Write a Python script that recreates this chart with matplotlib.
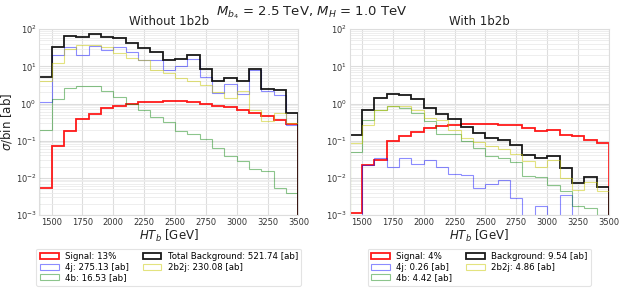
import numpy as np
import matplotlib
matplotlib.use("Agg")
import matplotlib.pyplot as plt

# ---- data -------------------------------------------------------------
bin_edges_gev = [1400, 1500, 1600, 1700, 1800, 1900, 2000, 2100, 2200, 2300, 2400,
                 2500, 2600, 2700, 2800, 2900, 3000, 3100, 3200, 3300, 3400, 3500]

# Without 1b2b
signal_wo = [0.0055, 0.072, 0.18, 0.38, 0.54, 0.74, 0.87, 0.97, 1.10, 1.12, 1.15,
             1.15, 1.07, 1.00, 0.87, 0.79, 0.69, 0.57, 0.47, 0.37, 0.29]
bg4j_wo = [1.1, 20, 34, 20, 36, 28, 34, 24, 15.0, 15.0, 7.8,
           10.5, 15.8, 5.2, 1.9, 3.4, 1.8, 7.8, 2.2, 1.7, 0.26]
bg4b_wo = [0.2, 1.3, 2.6, 3.0, 3.0, 2.2, 1.5, 1.0, 0.69, 0.44, 0.31,
           0.18, 0.15, 0.11, 0.062, 0.038, 0.028, 0.017, 0.015, 0.0055, 0.0038]
bg2b2j_wo = [4.0, 12, 30, 38, 38, 33, 23, 17, 15.0, 8.2, 6.5,
             5.0, 4.1, 3.1, 2.1, 1.45, 2.15, 0.69, 0.35, 0.55, 0.30]
total_wo = [5.3, 34, 66, 62, 77, 63, 59, 43, 31, 24, 14.8,
            15.8, 20.5, 8.5, 4.1, 5.0, 4.0, 8.5, 2.5, 2.25, 0.57]

# With 1b2b
signal_w = [0.0011, 0.022, 0.030, 0.10, 0.135, 0.17, 0.22, 0.25, 0.26, 0.28, 0.28,
            0.28, 0.27, 0.27, 0.22, 0.18, 0.20, 0.14, 0.13, 0.103, 0.089]
bg4j_w = [0.0, 0.022, 0.034, 0.020, 0.035, 0.024, 0.030, 0.020, 0.0125, 0.012, 0.0052,
          0.0068, 0.0085, 0.0029, 0.0, 0.0018, 0.0, 0.0034, 0.0, 0.0, 0.0]
bg4b_w = [0.05, 0.36, 0.68, 0.88, 0.78, 0.57, 0.34, 0.155, 0.155, 0.10, 0.065,
          0.038, 0.035, 0.027, 0.011, 0.0107, 0.0063, 0.0045, 0.0018, 0.0015, 0.0010]
bg2b2j_w = [0.088, 0.26, 0.68, 0.86, 0.85, 0.68, 0.40, 0.36, 0.20, 0.12, 0.09,
            0.072, 0.059, 0.043, 0.029, 0.020, 0.030, 0.0102, 0.0047, 0.0078, 0.0045]
total_w = [0.145, 0.66, 1.40, 1.82, 1.75, 1.35, 0.76, 0.54, 0.39, 0.24, 0.163,
           0.118, 0.105, 0.077, 0.042, 0.034, 0.038, 0.018, 0.0073, 0.0103, 0.0056]

labels_wo = ["Signal: 13%", "4j: 275.13 [ab]", "4b: 16.53 [ab]",
             "Total Background: 521.74 [ab]", "2b2j: 230.08 [ab]"]
labels_w = ["Signal: 4%", "4j: 0.26 [ab]", "4b: 4.42 [ab]",
            "Background: 9.54 [ab]", "2b2j: 4.86 [ab]"]

xticks = [1500, 1750, 2000, 2250, 2500, 2750, 3000, 3250, 3500]
titles = ["Without 1b2b", "With 1b2b"]

# ---- plotting ---------------------------------------------------------
plt.rcParams['font.family'] = ['DejaVu Sans']
plt.rcParams['mathtext.fontset'] = 'dejavusans'

fig = plt.figure(figsize=(6.23, 2.92), dpi=100)
ax1 = fig.add_axes([0.063, 0.2637, 0.416, 0.636])
ax2 = fig.add_axes([0.561, 0.2637, 0.4165, 0.636])

edges = np.array(bin_edges_gev, dtype=float)
lefts = edges[:-1]

styles = [
    dict(color='red', lw=1.3, alpha=0.9),
    dict(color='blue', lw=0.8, alpha=0.45),
    dict(color='green', lw=0.8, alpha=0.45),
    dict(color='black', lw=1.3, alpha=0.9),
    dict(color='#c8c800', lw=0.8, alpha=0.5),
]

def draw(ax, series, labels, title):
    for vals, lab, st in zip(series, labels, styles):
        ax.hist(lefts, bins=edges, weights=vals, histtype='step', log=True,
                label=lab, **st)
    ax.set_yscale('log', nonpositive='clip')
    ax.set_xlim(1400, 3500)
    ax.set_ylim(1e-3, 1e2)
    ax.set_xticks(xticks)
    ax.tick_params(axis='both', labelsize=6, colors='#333333', length=0, pad=2)
    ax.tick_params(axis='y', which='minor', length=0)
    ax.grid(True, which='major', color='#dddddd', lw=0.8)
    ax.grid(True, which='minor', axis='y', color='#ebebeb', lw=0.6)
    ax.set_axisbelow(True)
    for s in ax.spines.values():
        s.set_color('#dddddd')
        s.set_linewidth(0.8)
    ax.set_title(title, fontsize=8.5, pad=3, color='#222222')
    ax.set_xlabel(r'$HT_b$ [GeV]', fontsize=8.5, labelpad=1, color='#222222')
    leg = ax.legend(loc='upper center', bbox_to_anchor=(0.5, -0.158), ncol=2,
                    fontsize=6.2, frameon=True, handlelength=2.2, handleheight=0.7,
                    handletextpad=0.7, labelspacing=0.18, columnspacing=1.6,
                    borderpad=0.4, fancybox=True)
    leg.get_frame().set_edgecolor('#dddddd')
    leg.get_frame().set_linewidth(0.8)

draw(ax1, [signal_wo, bg4j_wo, bg4b_wo, total_wo, bg2b2j_wo], labels_wo, titles[0])
draw(ax2, [signal_w, bg4j_w, bg4b_w, total_w, bg2b2j_w], labels_w, titles[1])
ax1.set_ylabel(r'$\sigma$/bin [ab]', fontsize=8.5, labelpad=1, color='#222222')

fig.text(0.5, 0.955, r'$M_{b_4}$ = 2.5 TeV, $M_H$ = 1.0 TeV', ha='center',
         va='center', fontsize=9.5, color='#222222')

fig.savefig('out.png', dpi=100)
